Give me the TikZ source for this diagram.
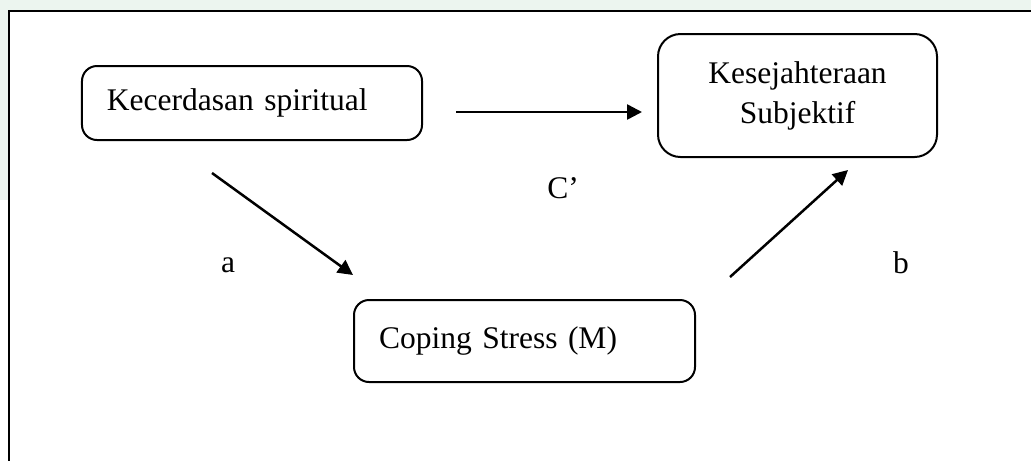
\documentclass[tikz,border=0pt]{standalone}
\usepackage{fontspec}
\setmainfont{Liberation Serif}
\usetikzlibrary{arrows.meta}
\definecolor{tint}{RGB}{236,245,239}

\begin{document}
\begin{tikzpicture}[ x=0.4pt, y=-0.4pt, >={Triangle[length=6pt,width=6pt]},
    box/.style={ draw, line width=0.8pt, rounded corners=6pt,
    font=\fontsize{12.6}{16}\selectfont }, path/.style={ ->, line width=1pt },
    coef/.style={ font=\fontsize{12.6}{16}\selectfont, inner sep=0pt } ]
  \useasboundingbox (0,0) rectangle (1031,461);
  \fill[white] (0,0) rectangle (1031,461);
  \fill[tint] (0,0) rectangle (1031,10);
  \fill[tint] (0,0) rectangle (8,200);
  \draw[line width=0.9pt] (1031,11) -- (9,11) -- (9,461);
  \node[box,minimum width=136pt,minimum height=29.6pt,text width=116pt,
    inner xsep=10pt,align=left] (spiritual) at (252,103) {Kecerdasan spiritual};
  \node[box,minimum width=136.4pt,minimum height=32.8pt,text width=116.4pt,
    inner xsep=10pt,align=left] (coping) at (524.5,341) {Coping Stress (M)};
  \node[box,rounded corners=9pt,minimum width=111.6pt,minimum height=49.2pt,
    align=center] (sejahtera) at (797.5,95.5) {Kesejahteraan\\Subjektif};
  \coordinate (c1) at (456,112); \coordinate (c2) at (642,112);
  \coordinate (a1) at (212,173); \coordinate (a2) at (353,275);
  \coordinate (b1) at (730,277); \coordinate (b2) at (848,170);
  \draw[path] (c1) -- (c2);
  \draw[path] (a1) -- (a2);
  \draw[path] (b1) -- (b2);
  \node[coef] (lc) at (563,188) {C’};
  \node[coef] (la) at (228,265) {a};
  \node[coef] (lb) at (901,263) {b};
\end{tikzpicture}
\end{document}
